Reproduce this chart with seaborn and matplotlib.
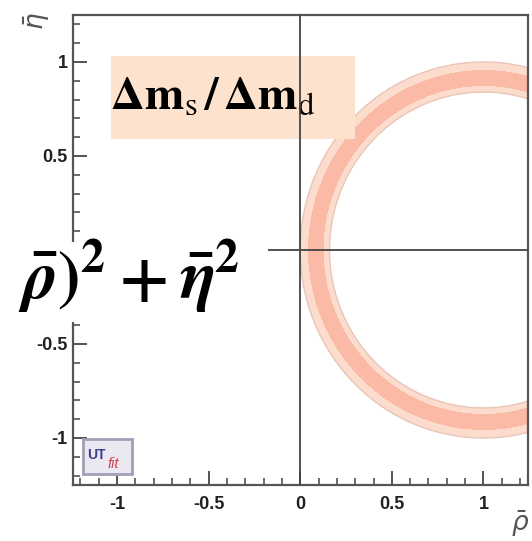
import numpy as np
import matplotlib
matplotlib.use("Agg")
import matplotlib.pyplot as plt
from matplotlib.patches import Rectangle
import seaborn as sns

# Constraint from the Bd/Bs oscillation frequency ratio on the UT side R_t
rt_center = [1.0, 0.0]           # (rho_bar, eta_bar) apex of the R_t circle
band_95 = [0.84, 1.00]           # 95% probability range of R_t
band_68 = [0.875, 0.96]          # 68% probability range of R_t

x_ticks = [-1.0, -0.5, 0.0, 0.5, 1.0]
y_ticks = [-1.0, -0.5, 0.0, 0.5, 1.0]
x_ticklabels = ["-1", "-0.5", "0", "0.5", "1"]
y_ticklabels = ["-1", "-0.5", "", "0.5", "1"]   # origin label sits under the formula panel
xlim = [-1.24, 1.243]
ylim = [-1.25, 1.25]

constraint_label = r"$\mathbf{\Delta m}_{\mathrm{s}}\,\mathbf{/}\,\mathbf{\Delta m}_{\mathrm{d}}$"
formula_label = r"$\bar{\rho})^{2}+\bar{\eta}^{2}$"

sns.set_theme(style="white")
plt.rcParams["mathtext.fontset"] = "stix"
plt.rcParams["mathtext.rm"] = "STIXGeneral:bold"
plt.rcParams["mathtext.it"] = "STIXGeneral:italic:bold"
plt.rcParams["mathtext.bf"] = "STIXGeneral:bold"
plt.rcParams["font.family"] = ["Liberation Sans", "DejaVu Sans"]

W, H = 532, 541
fig = plt.figure(figsize=(W / 100, H / 100), dpi=100)
ax = fig.add_axes([73 / W, 1 - 485 / H, (528 - 73) / W, (485 - 15) / H])
ax.set_facecolor("white")

# R_t bands as filled contours of the distance from the apex
rho = np.linspace(xlim[0], xlim[1], 900)
eta = np.linspace(ylim[0], ylim[1], 900)
RR, EE = np.meshgrid(rho, eta)
rt = np.hypot(RR - rt_center[0], EE - rt_center[1])

light, dark, edge = "#FCDCCC", "#FBBAA6", "#E9C6BA"
ax.contourf(RR, EE, rt, levels=[band_95[0], band_68[0], band_68[1], band_95[1]],
            colors=[light, dark, light], zorder=1)
ax.contour(RR, EE, rt, levels=band_95, colors=[edge], linewidths=1.0, zorder=1.5)

# Label box
ax.add_patch(Rectangle(((111 - 73) / 455, (485 - 139) / 470), 244 / 455, 83 / 470,
                       transform=ax.transAxes, facecolor="#FDE3CE", edgecolor="none",
                       zorder=2))
ax.text((110 - 73) / 455, (485 - 110) / 470, constraint_label, transform=ax.transAxes,
        fontsize=34, color="black", ha="left", va="baseline", zorder=3,
        math_fontfamily="stix")

# Axes through the origin
ax.axvline(0, color="#444444", lw=1.3, zorder=4)
ax.axhline(0, color="#444444", lw=1.3, zorder=4)

ax.set_xlim(xlim)
ax.set_ylim(ylim)
ax.set_xticks(x_ticks)
ax.set_yticks(y_ticks)
ax.set_xticklabels(x_ticklabels)
ax.set_yticklabels(y_ticklabels)
ax.set_xticks(np.arange(-1.2, 1.25, 0.1), minor=True)
ax.set_yticks(np.arange(-1.2, 1.25, 0.1), minor=True)
ax.tick_params(which="major", direction="in", length=10, width=1.3, color="#444444",
               labelsize=13, labelcolor="#222222", bottom=True, left=True)
ax.tick_params(which="minor", direction="in", length=5, width=1.1, color="#444444",
               bottom=True, left=True)
ax.tick_params(axis="x", pad=8)
ax.tick_params(axis="y", pad=4)
for lab in ax.get_xticklabels() + ax.get_yticklabels():
    lab.set_fontweight("bold")
for s in ax.spines.values():
    s.set_color("#555555")
    s.set_linewidth(1.6)

# Axis titles, ROOT style
fig.text(37 / W, 1 - 21 / H, r"$\bar{\eta}$", rotation=90, fontsize=19, color="#555555",
         ha="center", va="center", math_fontfamily="dejavusans")
fig.text(520 / W, 1 - 524 / H, r"$\bar{\rho}$", fontsize=19, color="#555555",
         ha="center", va="center", math_fontfamily="dejavusans")

# UTfit logo
fig.patches.append(Rectangle((83 / W, 1 - 474 / H), 49 / W, 35 / H, transform=fig.transFigure,
                             facecolor="#ECE8F2", edgecolor="#A0A0B8", lw=2, zorder=5))
fig.text(87 / W, 1 - 459 / H, "UT", fontsize=10, fontweight="bold", color="#3B3F8C",
         ha="left", va="baseline", zorder=6)
fig.text(108 / W, 1 - 468 / H, "fit", fontsize=10.5, fontstyle="italic", color="#D0404F",
         ha="left", va="baseline", zorder=6)

# Formula fragment on a white panel
fig.patches.append(Rectangle((0, 1 - 322 / H), 268 / W, 80 / H, transform=fig.transFigure,
                             facecolor="white", edgecolor="none", zorder=5))
fig.text(18 / W, 1 - 298 / H, formula_label, fontsize=49, color="black",
         ha="left", va="baseline", zorder=6, math_fontfamily="custom")

fig.savefig("out.png", dpi=100)
